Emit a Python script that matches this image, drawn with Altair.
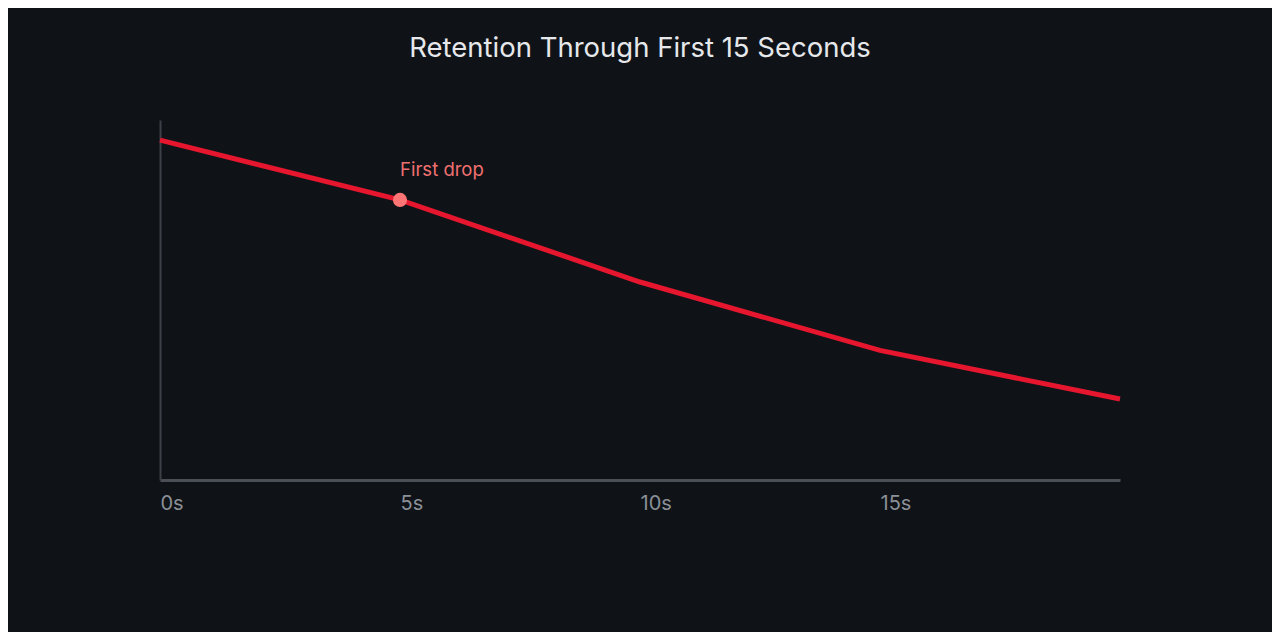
import altair as alt
import pandas as pd

# seconds into the video and share of viewers still watching
seconds = [0, 5, 10, 15, 20]
retention = [94.4, 77.8, 55.0, 36.0, 22.5]
tick_seconds = [0, 5, 10, 15]

note_second = [5]
note_value = [77.8]
note_text = ["First drop"]

df = pd.DataFrame({"second": seconds, "retention": retention})
notes = pd.DataFrame({"second": note_second, "retention": note_value, "label": note_text})

x_enc = alt.X(
    "second:Q",
    scale=alt.Scale(domain=[0, 20], nice=False, zero=False),
    axis=alt.Axis(
        values=tick_seconds,
        labelExpr="datum.value + 's'",
        labelAlign="left",
        labelColor="#8b8f96",
        labelFontSize=20,
        labelPadding=13,
        ticks=False,
        grid=False,
        domainColor="#4a4e55",
        domainWidth=3,
        title=None,
    ),
)
y_enc = alt.Y(
    "retention:Q",
    scale=alt.Scale(domain=[0, 100], nice=False),
    axis=alt.Axis(
        labels=False,
        ticks=False,
        grid=False,
        domainColor="#3c4047",
        domainWidth=2,
        title=None,
    ),
)

line = alt.Chart(df).mark_line(color="#e5162e", strokeWidth=5).encode(x=x_enc, y=y_enc)

point = alt.Chart(notes).mark_circle(color="#ff7474", size=200, opacity=1).encode(
    x="second:Q", y="retention:Q"
)

label = alt.Chart(notes).mark_text(
    align="left", baseline="middle", dy=-30, fontSize=18.5, color="#f07070"
).encode(x="second:Q", y="retention:Q", text="label:N")

chart = (
    alt.layer(line, point, label)
    .properties(
        width=960,
        height=360,
        background="#0f1318",
        padding={"left": 152, "top": 112, "right": 152, "bottom": 152},
        autosize=alt.AutoSizeParams(type="none"),
        title=alt.TitleParams(
            "Retention Through First 15 Seconds",
            color="#e6e8eb",
            fontSize=27.5,
            fontWeight="normal",
            anchor="middle",
            offset=58,
        ),
    )
    .configure(font="Inter")
    .configure_view(stroke=None)
)

chart.save("out.html", embed_options={"renderer": "svg", "actions": False})
